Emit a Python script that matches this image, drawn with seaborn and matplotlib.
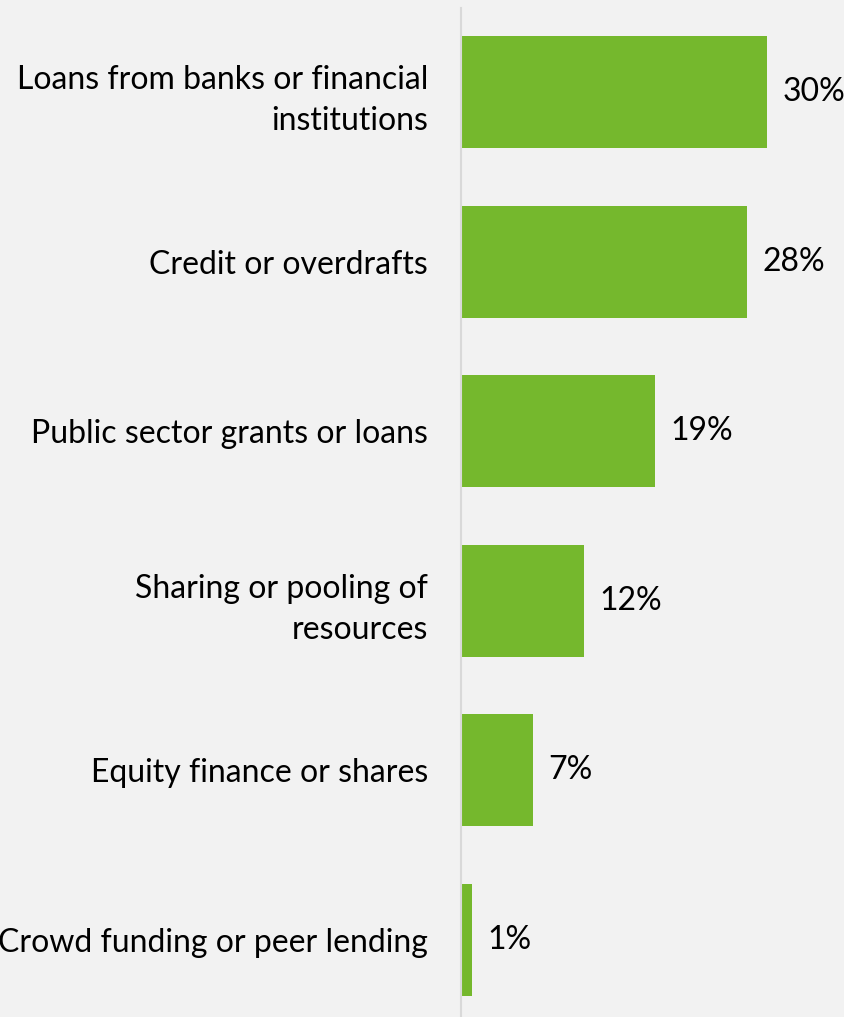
import matplotlib
matplotlib.use("Agg")
import matplotlib.pyplot as plt
import seaborn as sns
import pandas as pd

categories = [
    "Loans from banks or financial\ninstitutions",
    "Credit or overdrafts",
    "Public sector grants or loans",
    "Sharing or pooling of\nresources",
    "Equity finance or shares",
    "Crowd funding or peer lending",
]
values = [30, 28, 19, 12, 7, 1]
value_labels = ["30%", "28%", "19%", "12%", "7%", "1%"]

BG = "#f2f2f2"
GREEN = "#75b82d"
AXIS = "#d9d9d9"

sns.set_theme(style="white")
plt.rcParams["font.family"] = ["Lato", "DejaVu Sans"]

df = pd.DataFrame({"category": categories, "value": values})

W, H = 845, 1017
fig = plt.figure(figsize=(W / 100, H / 100), dpi=100, facecolor=BG)
# axes: zero line at x=461.5 px, category rows 169.5 px apart
x0 = 461.5
top = 7.5
row = 169.5
ax = fig.add_axes([x0 / W, 1 - (top + 6 * row) / H, (W - x0) / W, 6 * row / H])
ax.set_facecolor(BG)

sns.barplot(data=df, x="value", y="category", orient="h", color=GREEN,
            saturation=1, width=0.66, linewidth=0, edgecolor=GREEN, ax=ax)

ax.set_xlim(0, (W - x0) / 10.2)
ax.set_ylim(5.5, -0.5)
ax.set_xlabel("")
ax.set_ylabel("")
ax.set_xticks([])
for s in ["top", "right", "bottom"]:
    ax.spines[s].set_visible(False)
ax.spines["left"].set_color(AXIS)
ax.spines["left"].set_linewidth(1.5)

FS = 23
ax.tick_params(axis="y", length=0, pad=24, labelsize=FS, labelcolor="black")
for lab in ax.get_yticklabels():
    lab.set_horizontalalignment("right")
    lab.set_multialignment("right")
    lab.set_linespacing(1.45)

for i, (v, t) in enumerate(zip(values, value_labels)):
    ax.annotate(t, xy=(v, i), xytext=(11, 0), textcoords="offset points",
                ha="left", va="center", fontsize=FS, color="black")

fig.savefig("out.png", dpi=100, facecolor=BG)
